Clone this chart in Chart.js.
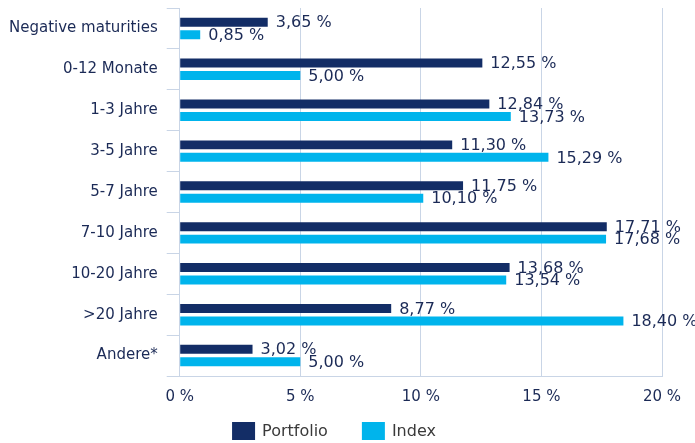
<!DOCTYPE html>
<html>
<head>
<meta charset="utf-8">
<script src="https://cdn.jsdelivr.net/npm/chart.js@4"></script>
<style>
  html, body { margin: 0; padding: 0; background: #fff; }
  #wrap { width: 695px; height: 443px; }
</style>
</head>
<body>
<div id="wrap"><canvas id="myChart"></canvas></div>
<script>
const categories = ['Negative maturities', '0-12 Monate', '1-3 Jahre', '3-5 Jahre', '5-7 Jahre', '7-10 Jahre', '10-20 Jahre', '>20 Jahre', 'Andere*'];
const portfolio = [3.65, 12.55, 12.84, 11.30, 11.75, 17.71, 13.68, 8.77, 3.02];
const indexValues = [0.85, 5.00, 13.73, 15.29, 10.10, 17.68, 13.54, 18.40, 5.00];
const xTicks = [0, 5, 10, 15, 20];

const navy = '#132d66';
const cyan = '#00b4ec';
const textColor = '#1b2a56';
const gridColor = '#c9d5e6';

const fmt = (v) => v.toFixed(2).replace('.', ',') + ' %';

// labels at the end of each bar
const barLabels = {
    id: 'barLabels',
    afterDatasetsDraw(chart) {
        const ctx = chart.ctx;
        ctx.save();
        ctx.font = '16px "DejaVu Sans"';
        ctx.fillStyle = textColor;
        ctx.textBaseline = 'middle';
        ctx.textAlign = 'left';
        chart.data.datasets.forEach((ds, i) => {
            chart.getDatasetMeta(i).data.forEach((bar, j) => {
                ctx.fillText(fmt(ds.data[j]), bar.x + 8, bar.y + 1);
            });
        });
        ctx.restore();
    },
};

// legend drawn by hand so the spacing between items can differ from the vertical gap
const bottomLegend = {
    id: 'bottomLegend',
    afterDraw(chart) {
        const ctx = chart.ctx;
        ctx.save();
        ctx.font = '16px "DejaVu Sans"';
        ctx.textBaseline = 'middle';
        const boxW = 23, boxH = 18, textGap = 7, itemGap = 34;
        const items = chart.data.datasets.map((ds) => ({ text: ds.label, color: ds.backgroundColor, w: ctx.measureText(ds.label).width }));
        let total = 0;
        items.forEach((it, i) => { total += boxW + textGap + it.w + (i ? itemGap : 0); });
        let x = (chart.width - 33) / 2 - total / 2 + 3;
        const y = 422;
        items.forEach((it) => {
            ctx.fillStyle = it.color;
            ctx.fillRect(x, y, boxW, boxH);
            ctx.fillStyle = '#3a3a3a';
            ctx.fillText(it.text, x + boxW + textGap, y + boxH / 2 + 1);
            x += boxW + textGap + it.w + itemGap;
        });
        ctx.restore();
    },
};

new Chart(document.getElementById('myChart'), {
    type: 'bar',
    data: {
        labels: categories,
        datasets: [
            { label: 'Portfolio', data: portfolio, backgroundColor: navy, categoryPercentage: 0.61, barPercentage: 0.72 },
            { label: 'Index', data: indexValues, backgroundColor: cyan, categoryPercentage: 0.61, barPercentage: 0.72 },
        ],
    },
    options: {
        indexAxis: 'y',
        responsive: true,
        maintainAspectRatio: false,
        animation: false,
        layout: { padding: { left: 0, right: 33, top: 8, bottom: 25 } },
        scales: {
            x: {
                min: 0,
                max: 20,
                afterBuildTicks: (axis) => { axis.ticks = xTicks.map((v) => ({ value: v })); },
                ticks: {
                    color: textColor,
                    font: { family: 'DejaVu Sans', size: 15 },
                    padding: 12,
                    callback: (v) => v + ' %',
                },
                grid: { color: gridColor, drawTicks: false },
                border: { color: gridColor },
            },
            y: {
                afterFit: (axis) => { axis.paddingTop = 0; axis.paddingBottom = 0; },
                ticks: {
                    color: textColor,
                    font: { family: 'DejaVu Sans', size: 15 },
                    padding: 9,
                },
                grid: { color: gridColor, offset: true, drawOnChartArea: false, tickLength: 13 },
                border: { color: gridColor },
            },
        },
        plugins: {
            legend: { display: false },
            tooltip: { enabled: false },
        },
    },
    plugins: [barLabels, bottomLegend],
});
</script>
</body>
</html>
